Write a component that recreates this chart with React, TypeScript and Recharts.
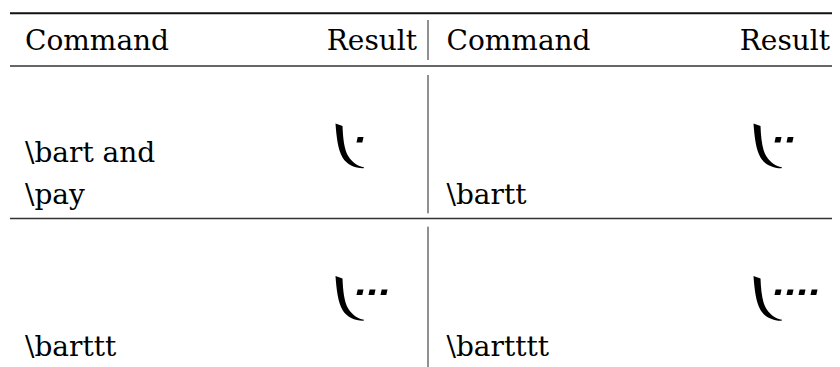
import React from "react";
import { ScatterChart, Scatter, XAxis, YAxis, ReferenceLine } from "recharts";

// ---- table content ----
const headers = ["Command", "Result"];
const commandLines: string[][] = [
  ["\\bart and", "\\pay"],
  ["\\bartt"],
  ["\\barttt"],
  ["\\bartttt"],
];
const dotCounts = [1, 2, 3, 4];
const columnCount = 2;

// ---- layout / style ----
const FONT = "'DejaVu Serif', serif";
const FONT_SIZE = 28;
const ROW_PX = 152.5;
const TEXT_PAD = [15, 18.5];
const RESULT_RIGHT = [407, 402];
const LINE_GAP = 42;

const cells = commandLines.map((lines, i) => ({
  col: i % columnCount,
  row: Math.floor(i / columnCount),
  lines,
  dots: dotCounts[i],
}));
const headerCells = Array.from({ length: columnCount }, (_, c) => ({ col: c, row: 0 }));

const Glyph = ({ x, y, dots }: { x: number; y: number; dots: number }) => {
  const d =
    `M ${x} ${y} L ${x + 7} ${y + 2.5} ` +
    `C ${x + 7.5} ${y + 14}, ${x + 8.5} ${y + 26}, ${x + 13} ${y + 33} ` +
    `C ${x + 17} ${y + 39}, ${x + 22} ${y + 42.5}, ${x + 28.5} ${y + 43.8} ` +
    `L ${x + 28} ${y + 44.8} ` +
    `C ${x + 20} ${y + 45}, ${x + 11} ${y + 41}, ${x + 7} ${y + 34} ` +
    `C ${x + 2.5} ${y + 26}, ${x + 1} ${y + 14}, ${x} ${y} Z`;
  const dotEls = [];
  for (let k = 0; k < dots; k++) {
    const dx = x + 21 + k * 12;
    const dy = y + 13.5;
    dotEls.push(
      <polygon
        key={k}
        points={`${dx + 1.2},${dy} ${dx + 7},${dy} ${dx + 5.8},${dy + 5.6} ${dx},${dy + 5.6}`}
        fill="#000"
      />
    );
  }
  return (
    <g>
      <path d={d} fill="#000" />
      {dotEls}
    </g>
  );
};

const CellShape = (props: any) => {
  const { cx, cy, payload } = props;
  const lines: string[] = payload.lines;
  const pad = TEXT_PAD[payload.col];
  const n = lines.length;
  return (
    <g>
      {lines.map((t, i) => (
        <text
          key={i}
          x={cx + pad}
          y={cy + 137.5 - LINE_GAP * (n - 1 - i)}
          fontFamily={FONT}
          fontSize={FONT_SIZE}
          fill="#000"
        >
          {t}
        </text>
      ))}
      <Glyph x={cx + 325.5} y={cy + 57.5} dots={payload.dots} />
    </g>
  );
};

const HeaderShape = (props: any) => {
  const { cx, cy, payload } = props;
  const pad = TEXT_PAD[payload.col];
  return (
    <g>
      <text x={cx + pad} y={cy - 16.5} fontFamily={FONT} fontSize={FONT_SIZE} fill="#000">
        {headers[0]}
      </text>
      <text
        x={cx + RESULT_RIGHT[payload.col]}
        y={cy - 16.5}
        textAnchor="end"
        fontFamily={FONT}
        fontSize={FONT_SIZE}
        fill="#000"
      >
        {headers[1]}
      </text>
    </g>
  );
};

const u = (px: number) => px / ROW_PX;

export default function App() {
  return (
    <div style={{ margin: "-8px 0 0 -8px", width: 840, height: 367, overflow: "hidden" }}>
      <ScatterChart
        width={840}
        height={367}
        margin={{ top: 66, left: 10, right: -6, bottom: -4 }}
      >
        <XAxis type="number" dataKey="col" domain={[0, 2]} hide />
        <YAxis type="number" dataKey="row" domain={[0, 2]} reversed hide />
        <ReferenceLine y={u(-52.7)} stroke="#111" strokeWidth={2} ifOverflow="visible" />
        <ReferenceLine y={0} stroke="#333" strokeWidth={1.4} ifOverflow="visible" />
        <ReferenceLine y={1} stroke="#333" strokeWidth={1.4} ifOverflow="visible" />
        <ReferenceLine
          segment={[{ x: 1, y: u(-46) }, { x: 1, y: u(-6) }]}
          stroke="#222"
          strokeWidth={1}
          ifOverflow="visible"
        />
        <ReferenceLine
          segment={[{ x: 1, y: u(9) }, { x: 1, y: u(147.3) }]}
          stroke="#222"
          strokeWidth={1}
          ifOverflow="visible"
        />
        <ReferenceLine
          segment={[{ x: 1, y: 1 + u(8.2) }, { x: 1, y: 2 }]}
          stroke="#222"
          strokeWidth={1}
          ifOverflow="visible"
        />
        <Scatter data={headerCells} shape={<HeaderShape />} isAnimationActive={false} />
        <Scatter data={cells} shape={<CellShape />} isAnimationActive={false} />
      </ScatterChart>
    </div>
  );
}
